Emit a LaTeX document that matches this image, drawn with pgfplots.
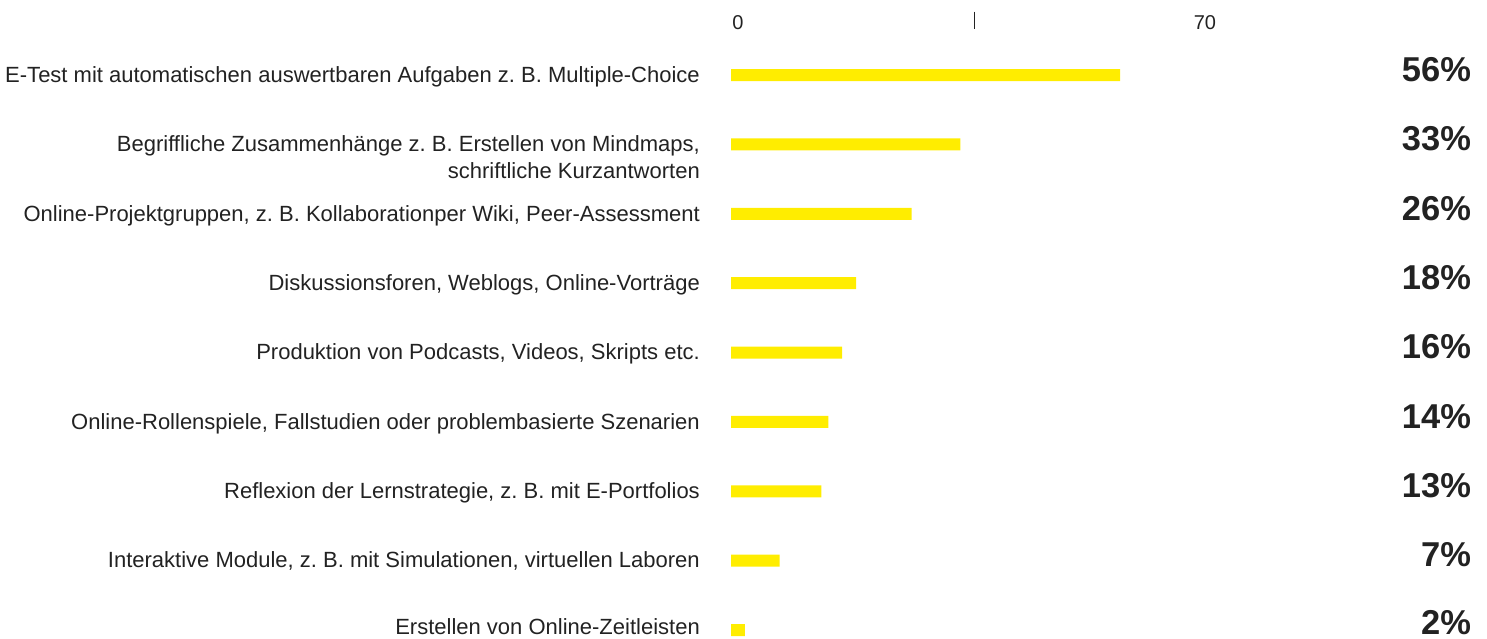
\documentclass[border=0pt]{standalone}
\usepackage{fontspec}
\setmainfont{Liberation Sans}
\usepackage{pgfplots}
\pgfplotsset{compat=1.18}
\frenchspacing
\definecolor{barY}{HTML}{FFED00}
\definecolor{txt}{HTML}{222222}
\tikzset{
  lab/.style={anchor=base east, text=txt, font=\fontsize{22}{26}\selectfont, inner sep=0pt, xshift=-31pt, yshift=-7.3pt},
  pct/.style={anchor=base east, text=txt, font=\fontsize{34.5}{40}\selectfont\bfseries, inner sep=0pt, yshift=-6.3pt},
  tl/.style={text=txt, font=\fontsize{20}{24}\selectfont, inner sep=0pt},
}
\begin{document}
\begin{tikzpicture}
\useasboundingbox (0,0) rectangle (1487pt,639pt);
\begin{axis}[
  at={(731pt,9pt)}, anchor=south west,
  scale only axis, width=486.5pt, height=555pt,
  xmin=0, xmax=70, ymin=0, ymax=8, y dir=reverse,
  axis lines=none, xtick=\empty, ytick=\empty,
  clip=false,
  xbar, bar width=12pt,
]
\addplot[fill=barY, draw=none] coordinates {
 (56,0) (33,1) (26,2) (18,3) (16,4) (14,5) (13,6) (7,7) (2,8)};
% axis ticks
\draw[txt, line width=1pt] (axis cs:35,-0.912) -- (axis cs:35,-0.667);
\node[tl] at (axis cs:1,-0.761) {0};
\node[tl] at (axis cs:68.2,-0.761) {70};
% category labels
\node[lab] at (axis cs:0,0) {E-Test mit automatischen auswertbaren Aufgaben z. B. Multiple-Choice};
\node[lab] at (axis cs:0,1) {Begriffliche Zusammenhänge z. B. Erstellen von Mindmaps,};
\node[lab, yshift=-27pt] at (axis cs:0,1) {schriftliche Kurzantworten};
\node[lab] at (axis cs:0,2) {Online-Projektgruppen, z. B. Kollaborationper Wiki, Peer-Assessment};
\node[lab] at (axis cs:0,3) {Diskussionsforen, Weblogs, Online-Vorträge};
\node[lab] at (axis cs:0,4) {Produktion von Podcasts, Videos, Skripts etc.};
\node[lab] at (axis cs:0,5) {Online-Rollenspiele, Fallstudien oder problembasierte Szenarien};
\node[lab] at (axis cs:0,6) {Reflexion der Lernstrategie, z. B. mit E-Portfolios};
\node[lab] at (axis cs:0,7) {Interaktive Module, z. B. mit Simulationen, virtuellen Laboren};
\node[lab, yshift=2.5pt] at (axis cs:0,8) {Erstellen von Online-Zeitleisten};
% percentages
\node[pct] at (axis cs:106.5,0) {56\%};
\node[pct] at (axis cs:106.5,1) {33\%};
\node[pct] at (axis cs:106.5,2) {26\%};
\node[pct] at (axis cs:106.5,3) {18\%};
\node[pct] at (axis cs:106.5,4) {16\%};
\node[pct] at (axis cs:106.5,5) {14\%};
\node[pct] at (axis cs:106.5,6) {13\%};
\node[pct] at (axis cs:106.5,7) {7\%};
\node[pct, yshift=2pt] at (axis cs:106.5,8) {2\%};
\end{axis}
\end{tikzpicture}
\end{document}
